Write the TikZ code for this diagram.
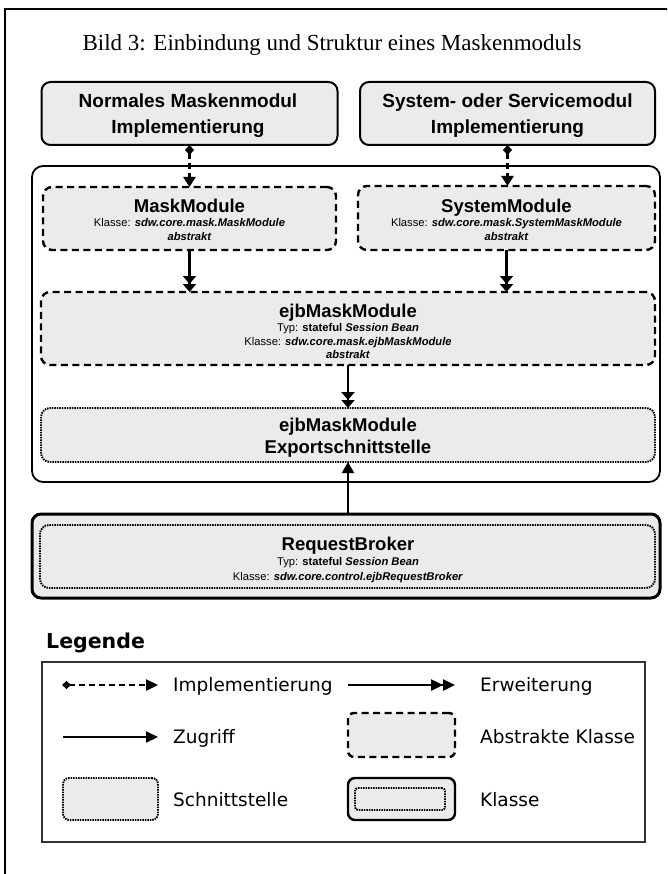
\documentclass[tikz,border=0pt]{standalone}
\usepackage{fontspec}
\setmainfont{Liberation Serif}
\setsansfont{Liberation Sans}
\newfontfamily\verd{DejaVu Sans}
\usetikzlibrary{arrows.meta}
\definecolor{boxgray}{HTML}{EBEBEB}
\tikzset{
  solidbox/.style={draw, fill=boxgray, rounded corners=9pt, line width=2pt, inner sep=0pt, outer sep=0pt},
  dashbox/.style={solidbox, line width=2.4pt, dash pattern=on 7pt off 4.5pt},
  dotbox/.style={solidbox, line width=1.9pt, dash pattern=on 1.5pt off 1pt},
  classbox/.style={solidbox, line width=3pt},
  container/.style={draw, rounded corners=11pt, line width=1.8pt, inner sep=0pt, outer sep=0pt},
  impl/.style={line width=2.4pt, dash pattern=on 6pt off 4pt, {Diamond[length=10pt,width=9pt]}-{Triangle[length=10pt,width=12pt]}},
  ext/.style={line width=2.4pt, -{Triangle[length=8pt,width=13pt]Triangle[length=8pt,width=13pt]}},
  access/.style={line width=2.2pt, -{Triangle[length=11pt,width=12pt]}},
  bigt/.style={font=\sffamily\bfseries\fontsize{18.5}{20}\selectfont, anchor=base, inner sep=0pt},
  topt/.style={font=\sffamily\bfseries\fontsize{19}{21}\selectfont, anchor=base, inner sep=0pt},
  smallt/.style={font=\sffamily\fontsize{11.2}{13}\selectfont, anchor=base, inner sep=0pt},
  legt/.style={font=\verd\fontsize{18.5}{21}\selectfont, anchor=base west, inner sep=0pt},
}
\newcommand{\bi}[1]{\textbf{\textit{#1}}}
\begin{document}
\begin{tikzpicture}[x=1pt,y=-1pt]
\useasboundingbox (0,0) rectangle (667,874);
\clip (0,0) rectangle (667,874);
\fill[white] (0,0) rectangle (667,874);
% outer frame (only top and left visible)
\draw[line width=2.6pt] (5,900) -- (5,9) -- (700,9);
% title
\node[font=\fontsize{23}{26}\selectfont, anchor=base, inner sep=0pt] (title) at (332,51) {Bild 3: Einbindung und Struktur eines Maskenmoduls};

% top boxes
\node[solidbox, minimum width=296pt, minimum height=63pt] (impA) at (189.5,113.5) {};
\node[topt] (impAt1) at (188,108) {Normales Maskenmodul};
\node[topt] (impAt2) at (188,134) {Implementierung};
\node[solidbox, minimum width=295pt, minimum height=63pt] (impB) at (507.5,113.5) {};
\node[topt] (impBt1) at (507.5,108) {System- oder Servicemodul};
\node[topt] (impBt2) at (507.5,134) {Implementierung};

% container
\node[container, minimum width=628pt, minimum height=316pt] (cont) at (346,324) {};

% abstract modules
\node[dashbox, minimum width=293pt, minimum height=63pt] (mask) at (189.5,218.5) {};
\node[bigt] (maskt1) at (189.5,213) {MaskModule};
\node[smallt] (maskt2) at (189.5,227) {Klasse: \bi{sdw.core.mask.MaskModule}};
\node[smallt] (maskt3) at (189.5,241) {\bi{abstrakt}};

\node[dashbox, minimum width=297pt, minimum height=64pt] (sys) at (506.5,218) {};
\node[bigt] (syst1) at (506.5,213) {SystemModule};
\node[smallt] (syst2) at (506.5,227) {Klasse: \bi{sdw.core.mask.SystemMaskModule}};
\node[smallt] (syst3) at (506.5,241) {\bi{abstrakt}};

% ejbMaskModule
\node[dashbox, minimum width=614pt, minimum height=73pt] (ejb) at (348,328.5) {};
\node[bigt] (ejbt1) at (348,317) {ejbMaskModule};
\node[smallt] (ejbt2) at (348,331) {Typ: \textbf{stateful} \bi{Session Bean}};
\node[smallt] (ejbt3) at (348,345) {Klasse: \bi{sdw.core.mask.ejbMaskModule}};
\node[smallt] (ejbt4) at (348,358) {\bi{abstrakt}};

% export interface
\node[dotbox, minimum width=614pt, minimum height=54pt] (exp) at (348,435) {};
\node[bigt] (expt1) at (348,431) {ejbMaskModule};
\node[bigt] (expt2) at (348,453) {Exportschnittstelle};

% RequestBroker
\node[classbox, minimum width=628pt, minimum height=84pt] (rb) at (346,556) {};
\node[dotbox, minimum width=615pt, minimum height=63pt] (rbi) at (347.5,556.5) {};
\node[bigt] (rbt1) at (348,550) {RequestBroker};
\node[smallt] (rbt2) at (348,565) {Typ: \textbf{stateful} \bi{Session Bean}};
\node[smallt] (rbt3) at (348,580) {Klasse: \bi{sdw.core.control.ejbRequestBroker}};

% connectors
\draw[impl] (impA.south) -- (mask.north);
\draw[impl] (impB.south) -- (impB.south |- sys.north);
\draw[ext] (mask.south) -- (mask.south |- ejb.north);
\draw[ext] (sys.south) -- (sys.south |- ejb.north);
\draw[ext] (ejb.south) -- (exp.north);
\draw[access] (rb.north -| exp.south) -- (exp.south);

% legend
\node[font=\verd\bfseries\fontsize{20.5}{24}\selectfont, anchor=base west, inner sep=0pt] (legtitle) at (46,648) {Legende};
\draw[line width=1.5pt, black!80] (42,662) rectangle (645,842);
\coordinate (l1a) at (62,685); \coordinate (l1b) at (158,685);
\draw[impl, {Diamond[length=9pt,width=8pt]}-{Triangle[length=12pt,width=11pt]}] (l1a) -- (l1b);
\node[legt] (lt1) at (173,691) {Implementierung};
\coordinate (l2a) at (348,685); \coordinate (l2b) at (455,685);
\draw[ext, -{Triangle[length=12pt,width=11pt]Triangle[length=12pt,width=11pt]}] (l2a) -- (l2b);
\node[legt] (lt2) at (480,691) {Erweiterung};
\coordinate (l3a) at (63,737); \coordinate (l3b) at (158,737);
\draw[access, -{Triangle[length=12pt,width=11pt]}] (l3a) -- (l3b);
\node[legt] (lt3) at (173,743) {Zugriff};
\node[dashbox, rounded corners=6pt, minimum width=107pt, minimum height=44pt] (lb1) at (401.5,735) {};
\node[legt] (lt4) at (480,743) {Abstrakte Klasse};
\node[dotbox, rounded corners=6pt, minimum width=95pt, minimum height=42pt] (lb2) at (110.5,799) {};
\node[legt] (lt5) at (173,806) {Schnittstelle};
\node[classbox, line width=2.4pt, rounded corners=7pt, minimum width=107pt, minimum height=42pt] (lb3) at (401.5,799) {};
\node[dotbox, rounded corners=3pt, minimum width=90pt, minimum height=22pt] (lb3i) at (400,799) {};
\node[legt] (lt6) at (480,806) {Klasse};
\end{tikzpicture}
\end{document}
